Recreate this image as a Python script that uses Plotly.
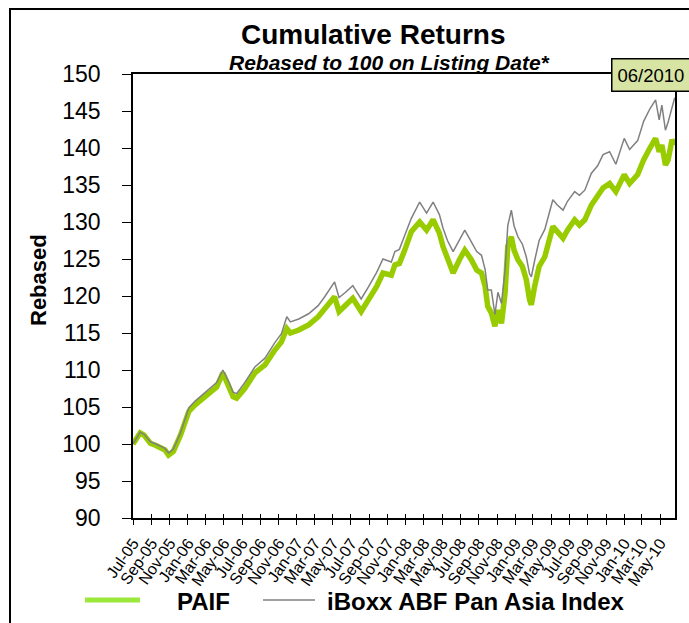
import plotly.graph_objects as go

# ---------------- data ----------------
dates = [
    "2005-07-01", "2005-07-13", "2005-07-25", "2005-08-07", "2005-08-28", "2005-09-16",
    "2005-10-01", "2005-10-16", "2005-10-28", "2005-11-13", "2005-12-07", "2005-12-22",
    "2006-01-04", "2006-01-25", "2006-02-21", "2006-03-13", "2006-04-07", "2006-04-28",
    "2006-05-19", "2006-06-01", "2006-06-13", "2006-07-10", "2006-08-13", "2006-09-16",
    "2006-10-19", "2006-11-10", "2006-11-28", "2006-12-10", "2007-01-07", "2007-02-09",
    "2007-03-13", "2007-04-04", "2007-05-07", "2007-05-22", "2007-06-10", "2007-07-07",
    "2007-08-04", "2007-08-28", "2007-09-25", "2007-10-16", "2007-11-13", "2007-11-25",
    "2007-12-10", "2007-12-28", "2008-01-19", "2008-02-16", "2008-03-10", "2008-04-01",
    "2008-04-22", "2008-05-04", "2008-05-19", "2008-06-07", "2008-06-28", "2008-07-16",
    "2008-08-07", "2008-08-25", "2008-09-10", "2008-09-22", "2008-10-01", "2008-10-13",
    "2008-10-25", "2008-11-04", "2008-11-16", "2008-11-28", "2008-12-07", "2008-12-19",
    "2008-12-28", "2009-01-10", "2009-01-25", "2009-02-07", "2009-02-18", "2009-02-24",
    "2009-03-07", "2009-03-22", "2009-04-10", "2009-04-25", "2009-05-07", "2009-05-22",
    "2009-06-10", "2009-06-25", "2009-07-19", "2009-08-04", "2009-08-22", "2009-09-13",
    "2009-10-04", "2009-10-22", "2009-11-13", "2009-12-04", "2010-01-01", "2010-01-19",
    "2010-02-15", "2010-03-07", "2010-03-28", "2010-04-16", "2010-04-28", "2010-05-07",
    "2010-05-19", "2010-05-28", "2010-06-10", "2010-06-19",
]

paif = [
    100.0, 100.8, 101.5, 101.2, 100.1, 99.8,
    99.5, 99.2, 98.5, 99.0, 101.2, 102.8,
    104.4, 105.3, 106.2, 106.9, 107.7, 109.6,
    107.7, 106.4, 106.2, 107.5, 109.6, 110.7,
    112.7, 113.8, 115.6, 115.0, 115.4, 116.1,
    117.2, 118.4, 119.9, 117.9, 118.6, 119.7,
    117.9, 119.5, 121.3, 123.1, 122.8, 124.2,
    124.4, 126.2, 128.7, 130.0, 128.9, 130.3,
    128.5, 126.7, 124.9, 123.1, 124.9, 126.2,
    124.9, 123.5, 123.1, 121.3, 118.6, 117.7,
    115.9, 118.1, 116.3, 120.4, 126.7, 128.0,
    126.2, 124.9, 124.0, 122.2, 119.5, 118.8,
    121.3, 124.0, 125.3, 127.6, 129.4, 128.7,
    127.8, 128.9, 130.3, 129.6, 130.3, 132.3,
    133.6, 134.6, 135.2, 134.1, 136.4, 135.2,
    136.4, 138.4, 140.0, 141.3, 139.5, 140.4,
    137.7, 138.4, 141.1, 140.4,
]

iboxx = [
    100.0, 100.9, 101.6, 101.3, 100.3, 100.0,
    99.7, 99.4, 98.8, 99.3, 101.5, 103.2,
    104.9, 105.8, 106.7, 107.4, 108.3, 110.0,
    108.3, 107.0, 106.8, 108.3, 110.4, 111.6,
    113.7, 114.9, 117.2, 116.5, 116.9, 117.6,
    118.7, 119.9, 121.9, 119.8, 120.4, 121.4,
    119.6, 121.2, 123.2, 125.0, 124.6, 126.0,
    126.3, 128.2, 130.5, 132.7, 131.2, 132.7,
    131.0, 129.2, 127.5, 126.0, 127.6, 128.9,
    127.3, 126.0, 125.5, 123.6, 120.8, 120.8,
    117.5, 120.5, 119.0, 123.5, 129.5, 131.6,
    129.5, 128.0, 127.0, 125.3, 123.0, 122.6,
    124.8, 127.5, 129.0, 131.4, 133.0, 132.3,
    131.6, 132.8, 134.1, 133.6, 134.3, 136.6,
    137.6, 139.1, 139.5, 137.8, 141.3, 139.8,
    141.0, 143.6, 145.3, 146.5, 143.8, 145.8,
    142.4, 143.5, 145.7, 146.8,
]

tick_dates = [
    "2005-07-01", "2005-09-01", "2005-11-01", "2006-01-01", "2006-03-01", "2006-05-01",
    "2006-07-01", "2006-09-01", "2006-11-01", "2007-01-01", "2007-03-01", "2007-05-01",
    "2007-07-01", "2007-09-01", "2007-11-01", "2008-01-01", "2008-03-01", "2008-05-01",
    "2008-07-01", "2008-09-01", "2008-11-01", "2009-01-01", "2009-03-01", "2009-05-01",
    "2009-07-01", "2009-09-01", "2009-11-01", "2010-01-01", "2010-03-01", "2010-05-01",
]
tick_labels = [
    "Jul-05", "Sep-05", "Nov-05", "Jan-06", "Mar-06", "May-06",
    "Jul-06", "Sep-06", "Nov-06", "Jan-07", "Mar-07", "May-07",
    "Jul-07", "Sep-07", "Nov-07", "Jan-08", "Mar-08", "May-08",
    "Jul-08", "Sep-08", "Nov-08", "Jan-09", "Mar-09", "May-09",
    "Jul-09", "Sep-09", "Nov-09", "Jan-10", "Mar-10", "May-10",
]
series_names = ["PAIF", "iBoxx ABF Pan Asia Index"]

# ---------------- layout geometry ----------------
W, H = 689, 623
L, R, T, B = 133, 675, 74, 518
PW, PH = R - L, B - T

def px(x):
    return (x - L) / PW

def py(y):
    return (B - y) / PH

GREEN = "#99cc00"
GREEN_LEG = "#9be83a"
GRAY = "#808080"
FONT = "Liberation Sans, Arial, sans-serif"
X_RANGE = ["2005-07-01", "2010-06-20"]

fig = go.Figure()
fig.add_trace(go.Scatter(x=dates, y=paif, mode="lines", name=series_names[0],
                         line=dict(color=GREEN, width=5.5), showlegend=False))
fig.add_trace(go.Scatter(x=dates, y=iboxx, mode="lines", name=series_names[1],
                         line=dict(color=GRAY, width=1.5), showlegend=False))

fig.update_layout(
    width=W, height=H,
    margin=dict(l=L, r=W - R, t=T, b=H - B, pad=0),
    paper_bgcolor="white", plot_bgcolor="white",
    font=dict(family=FONT, color="black"),
    xaxis=dict(
        type="date", range=X_RANGE, tickvals=tick_dates, ticktext=tick_labels,
        tickangle=-55, tickfont=dict(size=16, family=FONT),
        ticks="outside", ticklen=5, tickwidth=1, tickcolor="black",
        ticklabelstandoff=3,
        showgrid=False, zeroline=False,
        showline=True, linecolor="black", linewidth=1.5, mirror=True,
    ),
    xaxis2=dict(
        type="date", range=X_RANGE, tickvals=tick_dates, showticklabels=False,
        ticks="inside", ticklen=4, tickwidth=1, tickcolor="black",
        showgrid=False, zeroline=False, overlaying="x", anchor="y",
    ),
    yaxis=dict(
        range=[90, 150], dtick=5, tick0=90,
        tickfont=dict(size=23, family=FONT),
        ticks="outside", ticklen=9, tickwidth=1, tickcolor="black",
        ticklabelstandoff=17,
        showgrid=False, zeroline=False,
        showline=True, linecolor="black", linewidth=1.5, mirror=True,
    ),
)
# overlay axis just to draw the inner halves of the crossing x ticks
fig.add_trace(go.Scatter(x=[X_RANGE[0]], y=[90], xaxis="x2", mode="markers",
                         marker=dict(opacity=0), showlegend=False, hoverinfo="skip"))

shapes = [
    # outer chart border
    dict(type="rect", xref="paper", yref="paper",
         x0=px(10), x1=px(720), y0=py(9), y1=py(660),
         line=dict(color="black", width=2), fillcolor="rgba(0,0,0,0)", layer="below"),
    # legend samples
    dict(type="line", xref="paper", yref="paper",
         x0=px(85), x1=px(140), y0=py(600), y1=py(600),
         line=dict(color=GREEN_LEG, width=5)),
    dict(type="line", xref="paper", yref="paper",
         x0=px(263), x1=px(315), y0=py(600), y1=py(600),
         line=dict(color=GRAY, width=1.5)),
]
fig.update_layout(shapes=shapes)

annotations = [
    dict(text="<b>Cumulative Returns</b>", x=px(373), y=py(34), xref="paper", yref="paper",
         showarrow=False, font=dict(size=28, family=FONT), xanchor="center", yanchor="middle"),
    dict(text="<b><i>Rebased to 100 on Listing Date*</i></b>", x=px(389), y=py(62),
         xref="paper", yref="paper", showarrow=False, font=dict(size=21, family=FONT),
         xanchor="center", yanchor="middle"),
    dict(text="<b>Rebased</b>", x=px(38), y=py(280), xref="paper", yref="paper",
         showarrow=False, textangle=-90, font=dict(size=22, family=FONT),
         xanchor="center", yanchor="middle"),
    dict(text="06/2010", x=px(651), y=py(75), xref="paper", yref="paper",
         showarrow=False, font=dict(size=18.5, family=FONT), xanchor="center", yanchor="middle",
         bgcolor="#d7e4a4", bordercolor="black", borderwidth=1.5, borderpad=5),
    dict(text="<b>" + series_names[0] + "</b>", x=px(175), y=py(601), xref="paper", yref="paper",
         showarrow=False, font=dict(size=24, family=FONT), xanchor="left", yanchor="middle"),
    dict(text="<b>" + series_names[1] + "</b>", x=px(325), y=py(601), xref="paper", yref="paper",
         showarrow=False, font=dict(size=24, family=FONT), xanchor="left", yanchor="middle"),
]
fig.update_layout(annotations=annotations)

fig.write_html("out.html")
